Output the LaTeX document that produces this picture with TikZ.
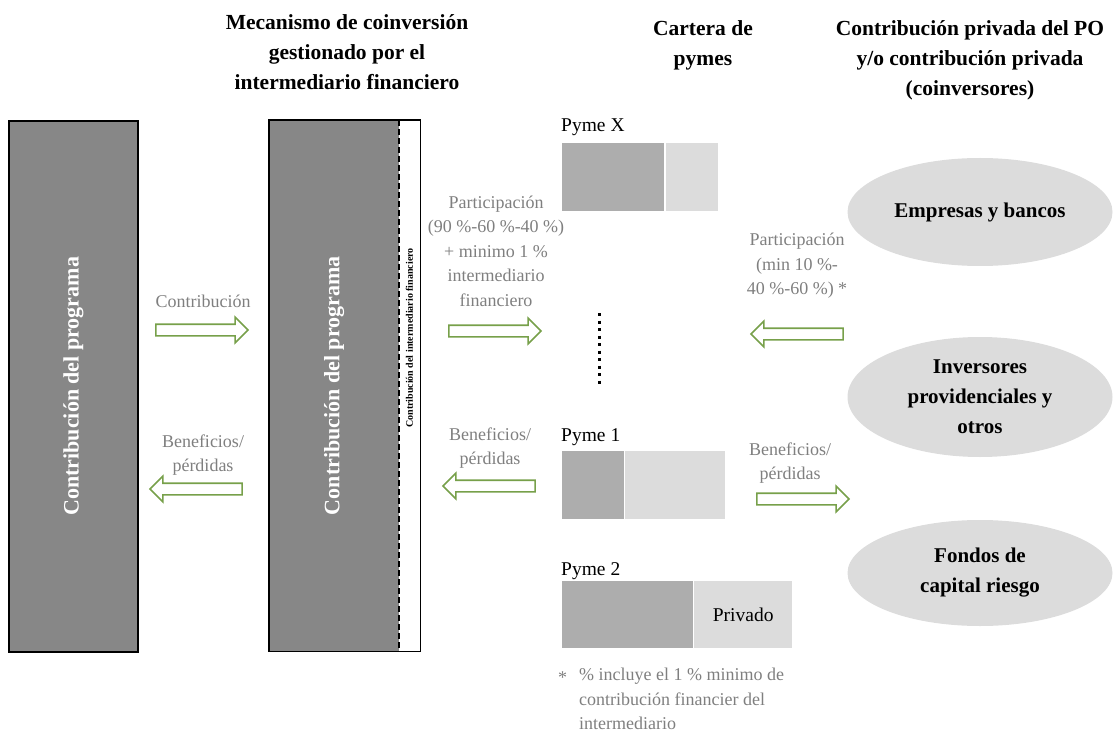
\documentclass[tikz,border=0pt]{standalone}
\usepackage{fontspec}
\setmainfont{Liberation Serif}
\usetikzlibrary{shapes.arrows,shapes.geometric}
\definecolor{boxgray}{HTML}{878787}
\definecolor{dk}{HTML}{ADADAD}
\definecolor{lt}{HTML}{DCDCDC}
\definecolor{arrgreen}{HTML}{77A04A}
\definecolor{lbl}{HTML}{7F7F7F}
\tikzset{
  title/.style={font=\fontsize{21.5}{30}\selectfont\bfseries, align=center, text=black},
  lab/.style={font=\fontsize{18}{24.5}\selectfont, align=center, text=lbl, inner sep=0pt},
  pymelab/.style={font=\fontsize{19.5}{20}\selectfont, anchor=west, inner sep=0pt, text=black},
  bigbox/.style={draw=black, line width=1.6pt, fill=boxgray, anchor=north west, inner sep=0pt},
  vtext/.style={rotate=90, font=\fontsize{22}{24}\selectfont\bfseries, text=white},
  barA/.style={fill=dk, anchor=north west, inner sep=0pt},
  barB/.style={fill=lt, anchor=north west, inner sep=0pt},
  ell/.style={ellipse, fill=lt, inner sep=0pt, font=\fontsize{21}{30}\selectfont\bfseries, align=center},
  barrow/.style={single arrow, draw=arrgreen, fill=white, line width=1.6pt,
    minimum height=92pt, single arrow head extend=7pt, single arrow head indent=0pt,
    inner sep=5pt},
  rarrow/.style={barrow, shape border rotate=0},
  larrow/.style={barrow, shape border rotate=180},
}
\begin{document}
\begin{tikzpicture}[x=1pt,y=-1pt]
\useasboundingbox (0,0) rectangle (1114,738);

% titles
\node[title] (t1) at (347,52) {Mecanismo de coinversión\\gestionado por el\\intermediario financiero};
\node[title] (t2) at (703,45) {Cartera de\\pymes};
\node[title] (t3) at (970,60) {Contribución privada del PO\\y/o contribución privada\\(coinversores)};

% left box
\node[bigbox, minimum width=129pt, minimum height=531pt] (prog) at (8,120) {};
\node[vtext] (progt) at (prog.center) {Contribución del programa};

% middle box
\node[fill=boxgray, anchor=north west, inner sep=0pt, minimum width=130pt, minimum height=531pt] (mid) at (269,120) {};
\node[fill=white, anchor=north west, inner sep=0pt, minimum width=21pt, minimum height=531pt] (strip) at (399,120) {};
\draw[line width=1.6pt] (mid.north west) rectangle (strip.south east);
\draw[line width=1.6pt, dash pattern=on 6pt off 3pt] (strip.north west) -- (strip.south west);
\node[vtext] (midt) at (mid.center) {Contribución del programa};
\node[rotate=90, font=\fontsize{10}{11}\selectfont\bfseries, text=black] (stript) at (409.5,338) {Contribución del intermediario financiero};

% left arrows
\node[rarrow] (a1) at (199,330) {};
\node[lab] (a1l) at (203,301) {Contribución};
\node[larrow] (a2) at (199,489) {};
\node[lab] (a2l) at (203,455) {Beneficios/\\pérdidas};

% middle arrows
\node[rarrow] (a3) at (492,331) {};
\node[lab] (a3l) at (496,251) {Participación\\(90 \%-60 \%-40 \%)\\+ minimo 1 \%\\intermediario\\financiero};
\node[larrow] (a4) at (492,486) {};
\node[lab] (a4l) at (490,448) {Beneficios/\\pérdidas};

% right arrows
\node[larrow] (a5) at (800,334) {};
\node[lab] (a5l) at (797,266) {Participación\\(min 10 \%-\\40 \%-60 \%) *};
\node[rarrow] (a6) at (800,499) {};
\node[lab] (a6l) at (790,463) {Beneficios/\\pérdidas};

% pymes
\node[pymelab] (pxl) at (561,127) {Pyme X};
\node[barA, minimum width=102pt, minimum height=68pt] (pxa) at (562,143) {};
\node[barB, minimum width=52pt, minimum height=68pt] (pxb) at (666,143) {};

\coordinate (dtop) at (599,313);
\coordinate (dbot) at (599,388);
\draw[line width=3pt, dash pattern=on 3pt off 4.5pt] (dtop) -- (dbot);

\node[pymelab] (p1l) at (561,437) {Pyme 1};
\node[barA, minimum width=62pt, minimum height=68pt] (p1a) at (562,451) {};
\node[barB, minimum width=100pt, minimum height=68pt] (p1b) at (625,451) {};

\node[pymelab] (p2l) at (561,571) {Pyme 2};
\node[barA, minimum width=131pt, minimum height=67pt] (p2a) at (562,581) {};
\node[barB, minimum width=98pt, minimum height=67pt] (p2b) at (694,581) {};
\node[font=\fontsize{19.5}{20}\selectfont, text=black] (priv) at (p2b.center) {Privado};

% ellipses
\node[ell, minimum width=265pt, minimum height=108pt] (e1) at (980,212) {Empresas y bancos};
\node[ell, minimum width=265pt, minimum height=120pt] (e2) at (980,397) {Inversores\\providenciales y\\otros};
\node[ell, minimum width=265pt, minimum height=106pt] (e3) at (980,573) {Fondos de\\capital riesgo};

% footnote
\node[font=\fontsize{18}{24.5}\selectfont, text=lbl, anchor=west, inner sep=0pt] (fst) at (558,678) {*};
\node[font=\fontsize{18}{24.5}\selectfont, text=lbl, anchor=north west, align=left, inner sep=0pt] (fn) at (579,668) {\% incluye el 1 \% minimo de\\contribución financier del\\intermediario};
\end{tikzpicture}
\end{document}
